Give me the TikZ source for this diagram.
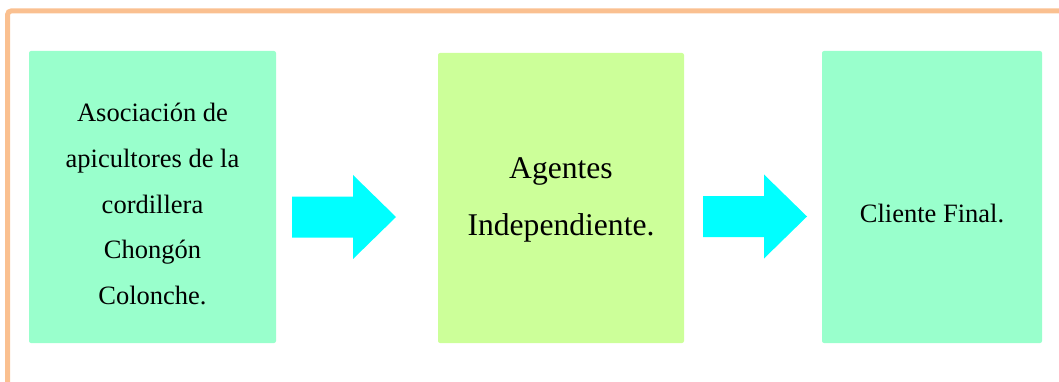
\documentclass[tikz,border=0pt]{standalone}
\usepackage{fontspec}
\setmainfont{Liberation Serif}
\usepackage{tikz}
\usetikzlibrary{calc}
\definecolor{naranja}{RGB}{250,192,144}
\definecolor{verdeagua}{RGB}{153,255,204}
\definecolor{lima}{RGB}{204,255,153}
\definecolor{celeste}{RGB}{0,255,255}
\def\flecha(#1){\fill[celeste] ($(#1)+(0,-20.5)$) -- ++(61,0) -- ++(0,-21.5) -- ++(43,42) -- ++(-43,42) -- ++(0,-21.5) -- ++(-61,0) -- cycle;}

\begin{document}
\begin{tikzpicture}[x=1pt, y=-1pt,
		caja/.style={rectangle, rounded corners=2pt, inner sep=0pt, outer sep=0pt},
		texto/.style={align=center, inner sep=0pt, font=\fontsize{26.5}{45.75}\selectfont},
		textogrande/.style={align=center, inner sep=0pt, font=\fontsize{31.6}{57}\selectfont}]
			%%%%% START %%%%%
			\useasboundingbox (0, 0) rectangle (1059, 382);
			
			\draw[line width=5pt, color=naranja, rounded corners=4pt] (7.5, 400) -- (7.5, 10.8) -- (1080, 10.8);
			
			\node[caja, fill=verdeagua, minimum width=247pt, minimum height=292pt] (asociacion) at (152.5, 197) {};
			\node[caja, fill=lima, minimum width=246pt, minimum height=290pt] (agentes) at (561, 198) {};
			\node[caja, fill=verdeagua, minimum width=220pt, minimum height=292pt] (cliente) at (932, 197) {};
			
			\node[texto, yshift=-7pt] (txtasociacion) at (asociacion.center) {Asociación de\\apicultores de la\\cordillera\\Chongón\\Colonche.};
			\node[textogrande, yshift=-1.5pt] (txtagentes) at (agentes.center) {Agentes\\Independiente.};
			\node[texto, yshift=-16.5pt] (txtcliente) at (cliente.center) {Cliente Final.};
			
			\coordinate (f1) at ($(asociacion.east)+(16, 20)$);
			\coordinate (f2) at ($(agentes.east)+(19, 18.5)$);
			\flecha(f1);
			\flecha(f2);
			
			%%%%% END %%%%%
\end{tikzpicture}
\end{document}
